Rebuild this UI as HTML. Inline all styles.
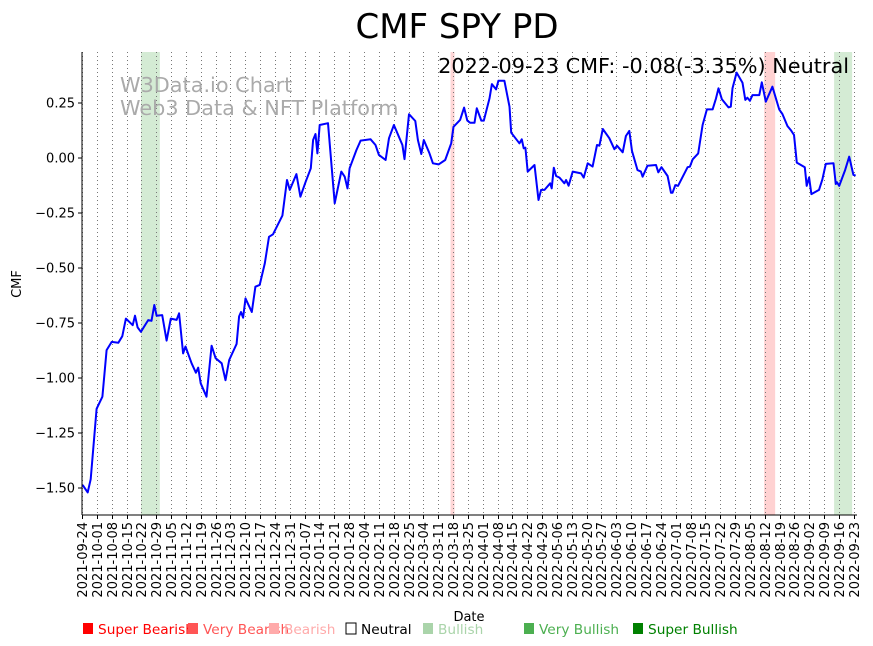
<!DOCTYPE html>
<html><head><meta charset="utf-8"><style>
body{margin:0;background:#fff;}
svg{display:block;font-family:"DejaVu Sans","Liberation Sans",sans-serif;}
</style></head><body>
<svg id="chart" width="873" height="646">
<text x="457" y="38" font-size="34" text-anchor="middle">CMF SPY PD</text>
<g id="spans"></g>
<g id="grid"></g>
<text x="120" y="92" font-size="20.8" fill="#aaa">W3Data.io Chart</text>
<text x="120" y="115" font-size="20.8" fill="#aaa">Web3 Data &amp; NFT Platform</text>
<path id="line" fill="none" stroke="#0000ff" stroke-width="2" stroke-linejoin="round"/>
<g id="axes"></g>
<text x="849" y="73" font-size="20.8" text-anchor="end">2022-09-23 CMF: -0.08(-3.35%) Neutral</text>
<text x="469" y="621" font-size="13" text-anchor="middle">Date</text>
<text transform="translate(21,284) rotate(-90)" font-size="13" text-anchor="middle">CMF</text>
<g id="legend" font-size="13.7"></g>
</svg>
<script>
const days=[0.3,2.7,4.1,6.9,9.6,11.6,14.0,17.1,19.0,20.7,23.9,25.0,26.2,27.8,31.2,32.8,34.1,35.2,37.8,39.9,41.9,44.6,45.8,47.7,48.8,51.7,53.7,54.8,56.0,58.7,61.1,63.0,65.9,67.7,69.4,72.9,74.1,75.0,76.0,77.1,80.1,81.8,83.8,86.2,88.2,90.1,94.5,96.7,98.0,101.1,103.0,105.4,107.9,109.0,110.1,111.0,112.1,116.0,119.2,122.3,123.9,125.2,126.2,129.4,131.4,136.1,138.4,140.0,143.2,144.8,147.1,151.1,152.1,154.2,157.2,158.4,160.0,161.2,163.9,165.5,168.2,171.3,174.1,175.2,178.3,180.2,181.7,183.1,185.1,186.2,188.3,189.5,192.2,193.3,195.3,196.4,199.2,201.6,202.4,206.3,207.4,208.3,209.1,210.2,213.4,215.3,216.5,218.1,220.8,221.5,222.5,223.6,225.2,227.5,228.3,229.5,231.4,235.4,236.6,238.5,240.8,242.9,244.0,245.6,248.7,251.1,252.3,255.0,256.5,258.1,259.4,262.0,263.6,264.4,266.7,270.7,271.8,273.3,276.2,277.8,278.5,279.8,281.1,285.6,286.7,288.0,290.6,292.7,294.7,297.4,299.0,300.2,301.8,304.9,306.0,306.8,308.7,311.5,312.8,313.8,315.0,316.2,319.4,320.6,322.5,325.6,328.8,330.3,332.7,334.3,335.8,337.1,340.9,341.8,342.9,344.0,347.6,349.2,350.8,354.4,355.5,356.0,357.1,359.9,361.8,363.8,364.9];
const cmf=[-1.486,-1.52,-1.46,-1.14,-1.085,-0.873,-0.836,-0.84,-0.81,-0.73,-0.76,-0.717,-0.77,-0.79,-0.737,-0.74,-0.668,-0.717,-0.714,-0.83,-0.73,-0.736,-0.706,-0.888,-0.857,-0.933,-0.976,-0.953,-1.024,-1.085,-0.853,-0.91,-0.933,-1.01,-0.918,-0.845,-0.72,-0.70,-0.726,-0.638,-0.70,-0.585,-0.577,-0.479,-0.358,-0.347,-0.262,-0.10,-0.145,-0.073,-0.176,-0.11,-0.047,0.082,0.109,0.021,0.15,0.158,-0.206,-0.062,-0.085,-0.138,-0.047,0.036,0.079,0.085,0.059,0.014,-0.009,0.09,0.15,0.059,-0.005,0.199,0.168,0.082,0.018,0.082,0.021,-0.024,-0.029,-0.009,0.067,0.142,0.173,0.229,0.17,0.16,0.16,0.226,0.17,0.17,0.271,0.336,0.312,0.351,0.351,0.233,0.115,0.067,0.085,0.044,0.047,-0.062,-0.032,-0.191,-0.145,-0.145,-0.115,-0.138,-0.044,-0.082,-0.089,-0.115,-0.10,-0.126,-0.062,-0.07,-0.089,-0.024,-0.039,0.059,0.056,0.132,0.09,0.04,0.056,0.026,0.10,0.123,0.032,-0.055,-0.062,-0.085,-0.035,-0.032,-0.065,-0.042,-0.082,-0.158,-0.158,-0.123,-0.127,-0.042,-0.039,-0.006,0.021,0.15,0.221,0.221,0.271,0.317,0.267,0.23,0.233,0.317,0.388,0.342,0.264,0.274,0.26,0.286,0.286,0.344,0.256,0.324,0.221,0.2,0.145,0.127,0.105,-0.021,-0.042,-0.127,-0.088,-0.164,-0.145,-0.097,-0.027,-0.024,-0.118,-0.11,-0.127,-0.055,0.006,-0.077,-0.08];
const yTicks=[0.25,0,-0.25,-0.5,-0.75,-1.0,-1.25,-1.5];
const yTickLabels=["0.25","0.00","\u22120.25","\u22120.50","\u22120.75","\u22121.00","\u22121.25","\u22121.50"];
const spanStarts=[27.8,173.8,321.7,354.7];
const spanEnds=[36.7,175.7,326.9,363.2];
const spanColors=["#d4ebd4","#ffd6d6","#ffd2d2","#d4ebd4"];
const legendLabels=["Super Bearish","Very Bearish","Bearish","Neutral","Bullish","Very Bullish","Super Bullish"];
const legendColors=["#ff0000","#ff5555","#ffaaaa","none","#aad4aa","#4caf50","#008000"];
const legendTextColors=["#ff0000","#ff5555","#ffaaaa","#000","#aad4aa","#4caf50","#008000"];
const legendX=[82,187,268,345,422,523,632];

const NS="http://www.w3.org/2000/svg";
const L=82,R=857,T=52,B=515;
const start=new Date(Date.UTC(2021,8,24));
const xs=d=>L+d*(R-L)/365.5;
const ys=v=>158-v*220;
function mk(tag,attrs,parent){const e=document.createElementNS(NS,tag);for(const k in attrs)e.setAttribute(k,attrs[k]);parent.appendChild(e);return e;}
const spans=document.getElementById('spans');
for(let i=0;i<spanStarts.length;i++){
  const r=mk('rect',{x:xs(spanStarts[i]),y:T,width:xs(spanEnds[i])-xs(spanStarts[i]),height:B-T,fill:spanColors[i]},spans);
  
  
}
const grid=document.getElementById('grid'),axes=document.getElementById('axes');
for(let w=0;w<=52;w++){
  const x=Math.round(xs(w*7))+0.5;
  const g=mk('line',{x1:x,x2:x,y1:T,y2:B,stroke:'#777','stroke-width':1,'stroke-dasharray':'1,3'},grid);
  
  
  mk('line',{x1:x,x2:x,y1:B,y2:B+4,stroke:'#000'},axes);
  const d=new Date(start.getTime()+w*7*86400000);
  const lab=d.toISOString().slice(0,10);
  const t=mk('text',{transform:`translate(${x+4.5},${B+7}) rotate(-90)`,'font-size':13,'text-anchor':'end'},axes);
  t.textContent=lab;
  
  
}
for(let i=0;i<yTicks.length;i++){
  const y=ys(yTicks[i]);
  mk('line',{x1:L-4,x2:L,y1:y,y2:y,stroke:'#000'},axes);
  const t=mk('text',{x:L-7,y:y+4.5,'font-size':13,'text-anchor':'end'},axes);
  t.textContent=yTickLabels[i];
  
  
}
mk('line',{x1:L,x2:L,y1:T,y2:B,stroke:'#000'},axes);
mk('line',{x1:L,x2:R,y1:B,y2:B,stroke:'#000'},axes);
let d='';
for(let i=0;i<days.length;i++)d+=(i?'L':'M')+xs(days[i]).toFixed(1)+','+ys(cmf[i]).toFixed(1);
document.getElementById('line').setAttribute('d',d);
const lg=document.getElementById('legend');
for(let i=0;i<legendLabels.length;i++){
  const g=mk('g',{},lg);
  
  
  mk('rect',{x:legendX[i]+1,y:623,width:10,height:11,fill:legendColors[i],stroke:legendColors[i]==='none'?'#000':'none'},g);
  const t=mk('text',{x:legendX[i]+16,y:634,fill:legendTextColors[i]},g);
  t.textContent=legendLabels[i];
}
</script>
</body></html>
